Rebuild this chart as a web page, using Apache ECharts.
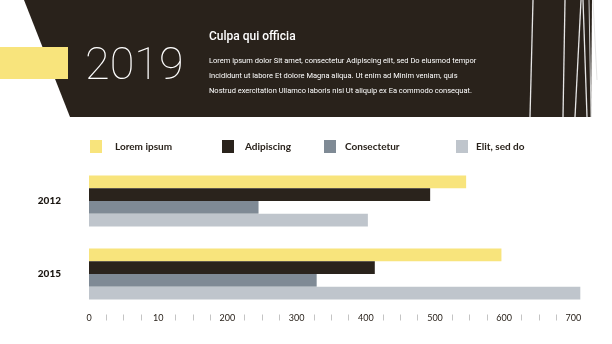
<!DOCTYPE html>
<html>
<head>
<meta charset="utf-8">
<script src="https://cdn.jsdelivr.net/npm/echarts@6/dist/echarts.min.js"></script>
<style>
html,body{margin:0;padding:0;background:#fff;}
#chart{width:612px;height:344px;}
</style>
</head>
<body>
<div id="chart"></div>
<script>
const categories = ['2012', '2015'];
const seriesNames = ['Lorem ipsum', 'Adipiscing', 'Consectetur', 'Elit, sed do'];
const loremIpsum = [545, 596];
const adipiscing = [493, 413];
const consectetur = [245, 329];
const elitSedDo = [403, 710];
const tickLabels = ['0', '10', '200', '300', '400', '500', '600', '700'];
const headerYear = '2019';
const headerTitle = 'Culpa qui officia';
const headerLines = [
  'Lorem ipsum dolor Sit amet, consectetur Adipiscing elit, sed Do eiusmod tempor',
  'Incididunt ut labore Et dolore Magna aliqua. Ut enim ad Minim veniam, quis',
  'Nostrud exercitation Ullamco laboris nisi Ut aliquip ex Ea commodo consequat.'
];

const colors = ['#f8e47c', '#2a231c', '#7f8a95', '#bfc5cc'];
const dark = '#29221b';
const values = [loremIpsum, adipiscing, consectetur, elitSedDo];

const chart = echarts.init(document.getElementById('chart'), null, {renderer: 'canvas'});

const legendLefts = [90, 222, 324, 456];
const legendPads = [8, 6, 4, 3];
const legends = seriesNames.map((n, i) => ({
  data: [n],
  left: legendLefts[i],
  top: 140,
  padding: 0,
  icon: 'rect',
  itemWidth: 12,
  itemHeight: 13,
  selectedMode: false,
  textStyle: {
    fontFamily: 'Lato',
    fontWeight: 'bold',
    fontSize: 10,
    color: '#2a231c',
    padding: [0, 0, 0, legendPads[i]]
  }
}));

const lineStyle = {stroke: '#e6e6e6', lineWidth: 1.3};
const graphics = [
  {type: 'polygon', shape: {points: [[24, 0], [592, 0], [591, 117], [70, 117]]}, style: {fill: dark}},
  {type: 'rect', shape: {x: 0, y: 47, width: 68, height: 32}, style: {fill: '#f8e47c'}},
  {type: 'line', shape: {x1: 533, y1: 0, x2: 530, y2: 117}, style: lineStyle},
  {type: 'line', shape: {x1: 565, y1: 0, x2: 563, y2: 117}, style: lineStyle},
  {type: 'line', shape: {x1: 581, y1: 0, x2: 575, y2: 117}, style: lineStyle},
  {type: 'line', shape: {x1: 583, y1: 0, x2: 587, y2: 117}, style: lineStyle},
  {type: 'line', shape: {x1: 589, y1: 0, x2: 591, y2: 117}, style: {stroke: '#cfcfcf', lineWidth: 1}},
  {type: 'line', shape: {x1: 593, y1: 0, x2: 597, y2: 80}, style: {stroke: '#d8d8d8', lineWidth: 1, opacity: 0.7}},
  {type: 'text', left: 85, top: 45, style: {text: headerYear, fill: '#ffffff', font: '100 45px Roboto'}},
  {type: 'text', x: 209, y: 37, style: {text: headerTitle, fill: '#ffffff', font: '500 12px Roboto', textVerticalAlign: 'middle'}},
  {type: 'text', x: 209, y: 61, style: {text: headerLines[0], fill: '#ffffff', font: '7.5px Roboto', textVerticalAlign: 'middle'}},
  {type: 'text', x: 209, y: 76, style: {text: headerLines[1], fill: '#ffffff', font: '7.5px Roboto', textVerticalAlign: 'middle'}},
  {type: 'text', x: 209, y: 91, style: {text: headerLines[2], fill: '#ffffff', font: '7.5px Roboto', textVerticalAlign: 'middle'}}
];

const option = {
  animation: false,
  backgroundColor: '#ffffff',
  color: colors,
  legend: legends,
  graphic: graphics,
  grid: {left: 89, right: 38.6, top: 164.5, height: 146, containLabel: false},
  xAxis: {
    type: 'value',
    min: 0,
    max: 700,
    interval: 100,
    offset: 4,
    axisLine: {show: false},
    axisTick: {show: false},
    splitLine: {show: false},
    minorTick: {show: true, splitNumber: 4, length: 6, lineStyle: {color: '#c4c4c4', width: 1}},
    axisLabel: {
      margin: -1,
      fontFamily: 'Lato',
      fontSize: 9,
      color: '#2a231c',
      formatter: v => tickLabels[Math.round(v / 100)]
    }
  },
  yAxis: {
    type: 'category',
    data: categories,
    inverse: true,
    axisLine: {show: false},
    axisTick: {show: false},
    axisLabel: {margin: 28, fontFamily: 'Lato', fontWeight: 900, fontSize: 10, color: '#1a1510'}
  },
  series: seriesNames.map((n, i) => ({
    name: n,
    type: 'bar',
    data: values[i],
    barGap: '0%',
    barCategoryGap: '30%',
    clip: false,
    itemStyle: {color: colors[i]}
  }))
};
chart.setOption(option);
</script>
</body>
</html>
